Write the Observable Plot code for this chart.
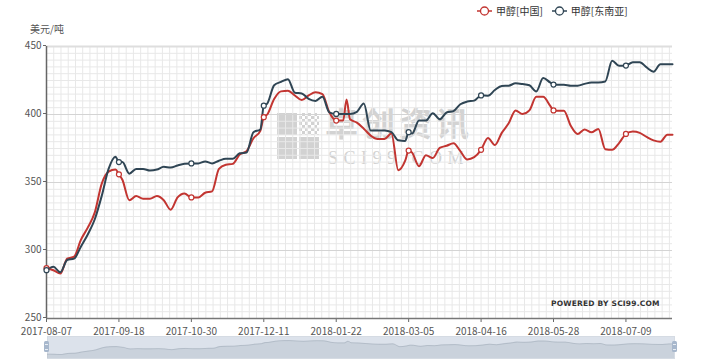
<!DOCTYPE html>
<html><head><meta charset="utf-8">
<script src="https://cdn.jsdelivr.net/npm/d3@7"></script>
<script src="https://cdn.jsdelivr.net/npm/@observablehq/plot@0.6"></script>
<style>
body{margin:0;background:#fff;}
#wrap{position:relative;width:718px;height:364px;overflow:hidden;background:#fff;font-family:"Noto Sans CJK SC","Noto Sans",sans-serif;}
#wm{position:absolute;left:0;top:0;width:718px;height:364px;z-index:0;}
#wm .logo{position:absolute;left:277px;top:113px;width:44px;height:46px;display:grid;grid-template-columns:20px 20px;grid-template-rows:22px 22px;gap:2px;}
#wm .logo div{background:#d2d2d2;}
#wm .logo .dots{background:repeating-conic-gradient(#d2d2d2 0 25%, transparent 0 50%) 0 0/6px 6px;}
#wm .cn{position:absolute;left:325px;top:108px;font-size:33px;font-weight:700;letter-spacing:4px;color:#d3d3d3;line-height:28px;white-space:nowrap;}
#wm .en{position:absolute;left:328px;top:152px;font-family:"Liberation Serif",serif;font-size:18px;letter-spacing:5.5px;color:#d2d2d2;line-height:12px;white-space:nowrap;}
#chart{position:absolute;left:0;top:0;z-index:1;}
#slider{position:absolute;left:0;top:335px;z-index:1;}
.handle{position:absolute;top:341px;width:5px;height:11px;background:#a7b7cc;border-radius:1.5px;z-index:2;}
.handle::after{content:"";position:absolute;left:1px;right:1px;top:3px;height:4px;border-top:1px solid #e8edf3;border-bottom:1px solid #e8edf3;}
#legend{position:absolute;left:477px;top:3px;display:flex;gap:9px;font-size:10px;color:#333;z-index:2;}
#legend .li{display:flex;align-items:center;gap:4px;}
#unit{position:absolute;left:30px;top:21px;font-size:10px;color:#555;z-index:2;}
#powered{position:absolute;left:551px;top:299px;font-family:"DejaVu Sans",sans-serif;font-weight:700;font-size:7.5px;letter-spacing:0.2px;color:#333;z-index:2;white-space:nowrap;}
</style></head><body>
<div id="wrap">
  <div id="wm">
    <div class="logo"><div></div><div class="dots"></div><div></div><div></div></div>
    <div class="cn">卓创资讯</div>
    <div class="en">SCI99.COM</div>
  </div>
  <div id="chart"></div>
  <div id="slider"></div>
  <div class="handle" style="left:44px"></div>
  <div class="handle" style="left:672px"></div>
  <div id="legend"></div>
  <div id="unit">美元/吨</div>
  <div id="powered">POWERED BY SCI99.COM</div>
</div>
<script>
const dates = [
"2017-08-07","2017-08-11","2017-08-15","2017-08-19","2017-08-23","2017-08-27","2017-08-31","2017-09-04","2017-09-08","2017-09-12",
"2017-09-16","2017-09-18","2017-09-20","2017-09-24","2017-09-28","2017-10-02","2017-10-06","2017-10-10","2017-10-14","2017-10-18",
"2017-10-22","2017-10-26","2017-10-30","2017-11-03","2017-11-07","2017-11-11","2017-11-15","2017-11-19","2017-11-23","2017-11-27",
"2017-12-01","2017-12-05","2017-12-09","2017-12-11","2017-12-13","2017-12-17","2017-12-21","2017-12-25","2017-12-29","2018-01-02",
"2018-01-06","2018-01-10","2018-01-14","2018-01-18","2018-01-22","2018-01-26","2018-01-28","2018-01-30","2018-02-03","2018-02-07",
"2018-02-11","2018-02-15","2018-02-19","2018-02-23","2018-02-27","2018-03-03","2018-03-05","2018-03-07","2018-03-11","2018-03-15",
"2018-03-19","2018-03-23","2018-03-27","2018-03-31","2018-04-04","2018-04-08","2018-04-12","2018-04-16","2018-04-20","2018-04-24",
"2018-04-28","2018-05-02","2018-05-06","2018-05-10","2018-05-14","2018-05-18","2018-05-22","2018-05-26","2018-05-28","2018-05-30",
"2018-06-03","2018-06-07","2018-06-11","2018-06-15","2018-06-19","2018-06-23","2018-06-27","2018-07-01","2018-07-05","2018-07-09",
"2018-07-13","2018-07-17","2018-07-21","2018-07-25","2018-07-29","2018-08-02","2018-08-05"];
const china = [
287,285.5,283,294,295.5,308,317,328,349,358,
359.5,356,352,337,340,338,338,340,337,330,
339,342,339,339,342.5,343.5,360,363,363.7,370.5,
373,382.5,388,398,400,411.4,417,417.5,414,410.6,
414,416.3,415,401.6,395.5,395.5,411,396.5,394,389.5,
384.5,382,382,386,359,366,373.5,372,362,370,
368,375.4,377,378.8,373,366.9,368.6,374,382.8,377.5,
386.5,393.5,403,400.4,403,413,413,406.5,403,402.8,
402.8,391.8,385.7,389,386.9,389.4,374.5,374,379,385.7,
387.5,386.5,383.5,381,380,385.2,385.2];
const sea = [
285.5,288,284,293,294,303,312,323,340,360,
369,365,365,356.5,360,360,358.8,359.5,361.5,361,
362.5,363.7,364,364,365.5,364,366,367.4,367.4,371.5,
372,387,389,406.5,408,421.5,424,426,416,415.5,
411.5,410,413,401.6,400.4,400.4,400.4,400.4,402,408,
388.2,388.2,388.2,387,381,380.5,387,386,395.5,395.5,
401,396.5,401.5,402.5,407.5,409.5,410.2,414,413.8,418,
421,421.2,422.9,422.4,421.5,417,426.8,423.6,422,421.9,
421.9,421.2,421.2,422.5,423.6,423.6,424.3,439.5,435.8,436,
438.5,438.5,434.6,431.5,437,437,437];
const seriesNames = ["甲醇[中国]", "甲醇[东南亚]"];
const seriesColors = ["#c23531", "#2f4554"];
const xTickLabels = ["2017-08-07","2017-09-18","2017-10-30","2017-12-11","2018-01-22","2018-03-05","2018-04-16","2018-05-28","2018-07-09"];
const yTickValues = [250, 300, 350, 400, 450];
const xStart = "2017-08-07", xEnd = "2018-08-05";

const table = dates.map((d, i) => ({date: new Date(d), key: d, china: china[i], sea: sea[i]}));
const tickSet = new Set(xTickLabels);
const markers = table.filter(d => tickSet.has(d.key));
const tickDates = xTickLabels.map(s => new Date(s));
const x0 = new Date(xStart), x1 = new Date(xEnd);
const dayMs = 864e5;
const minorX = d3.range(0, (x1 - x0) / dayMs + 0.01, 4.2).map(d => new Date(+x0 + d * dayMs));
const minorY = d3.range(255, 450, 5).filter(v => v % 50 !== 0);

const chart = Plot.plot({
  width: 718, height: 342,
  marginLeft: 46, marginRight: 46, marginTop: 46, marginBottom: 24,
  style: {background: "transparent", fontFamily: "'Noto Sans CJK SC','Noto Sans',sans-serif", fontSize: "10px", color: "#555"},
  x: {type: "utc", domain: [x0, x1]},
  y: {domain: [250, 450]},
  marks: [
    Plot.ruleX(minorX, {stroke: "#e8e8e8", strokeWidth: 1}),
    Plot.ruleY(minorY, {stroke: "#e8e8e8", strokeWidth: 1}),
    Plot.ruleY(yTickValues.filter(v => v > 250 && v < 450), {stroke: "#d4d4d4", strokeWidth: 1}),
    Plot.ruleY([450], {stroke: "#dedede", strokeWidth: 2}),
    Plot.axisY({ticks: yTickValues, tickSize: 3, tickPadding: 2, dy: -1, stroke: "#666", fill: "#555", label: null}),
    Plot.axisX({ticks: tickDates, tickSize: 4, tickPadding: 5, stroke: "#666", fill: "#555", tickFormat: d3.utcFormat("%Y-%m-%d"), label: null}),
    Plot.ruleX([x0], {stroke: "#666", strokeWidth: 1.5}),
    Plot.ruleY([250], {stroke: "#777", strokeWidth: 1.5}),
    Plot.line(table, {x: "date", y: "china", stroke: seriesColors[0], strokeWidth: 2, curve: "monotone-x"}),
    Plot.line(table, {x: "date", y: "sea", stroke: seriesColors[1], strokeWidth: 2, curve: "monotone-x"}),
    Plot.dot(markers, {x: "date", y: "china", r: 2.5, fill: "white", stroke: seriesColors[0], strokeWidth: 1.2}),
    Plot.dot(markers, {x: "date", y: "sea", r: 2.5, fill: "white", stroke: seriesColors[1], strokeWidth: 1.2})
  ]
});
document.getElementById("chart").append(chart);

const slider = Plot.plot({
  width: 718, height: 24,
  marginLeft: 47, marginRight: 44, marginTop: 1, marginBottom: 1,
  style: {background: "transparent"},
  x: {type: "utc", domain: [x0, x1], axis: null},
  y: {domain: [245, 457], axis: null},
  marks: [
    Plot.frame({fill: "rgba(167,183,204,0.4)", stroke: "#d5dbe3"}),
    Plot.areaY(table, {x: "date", y1: 245, y2: "china", fill: "rgba(47,69,84,0.1)", curve: "monotone-x"}),
    Plot.line(table, {x: "date", y: "china", stroke: "rgba(47,69,84,0.25)", strokeWidth: 0.6, curve: "monotone-x"})
  ]
});
document.getElementById("slider").append(slider);

const legend = d3.select("#legend");
seriesNames.forEach((name, i) => {
  const item = legend.append("div").attr("class", "li");
  const svg = item.append("svg").attr("width", 15).attr("height", 12);
  svg.append("line").attr("x1", 0).attr("x2", 15).attr("y1", 6).attr("y2", 6).attr("stroke", seriesColors[i]).attr("stroke-width", 1.5);
  svg.append("circle").attr("cx", 7.5).attr("cy", 6).attr("r", 4).attr("fill", "#fff").attr("stroke", seriesColors[i]).attr("stroke-width", 1.3);
  item.append("span").text(name);
});
</script>
</body></html>
